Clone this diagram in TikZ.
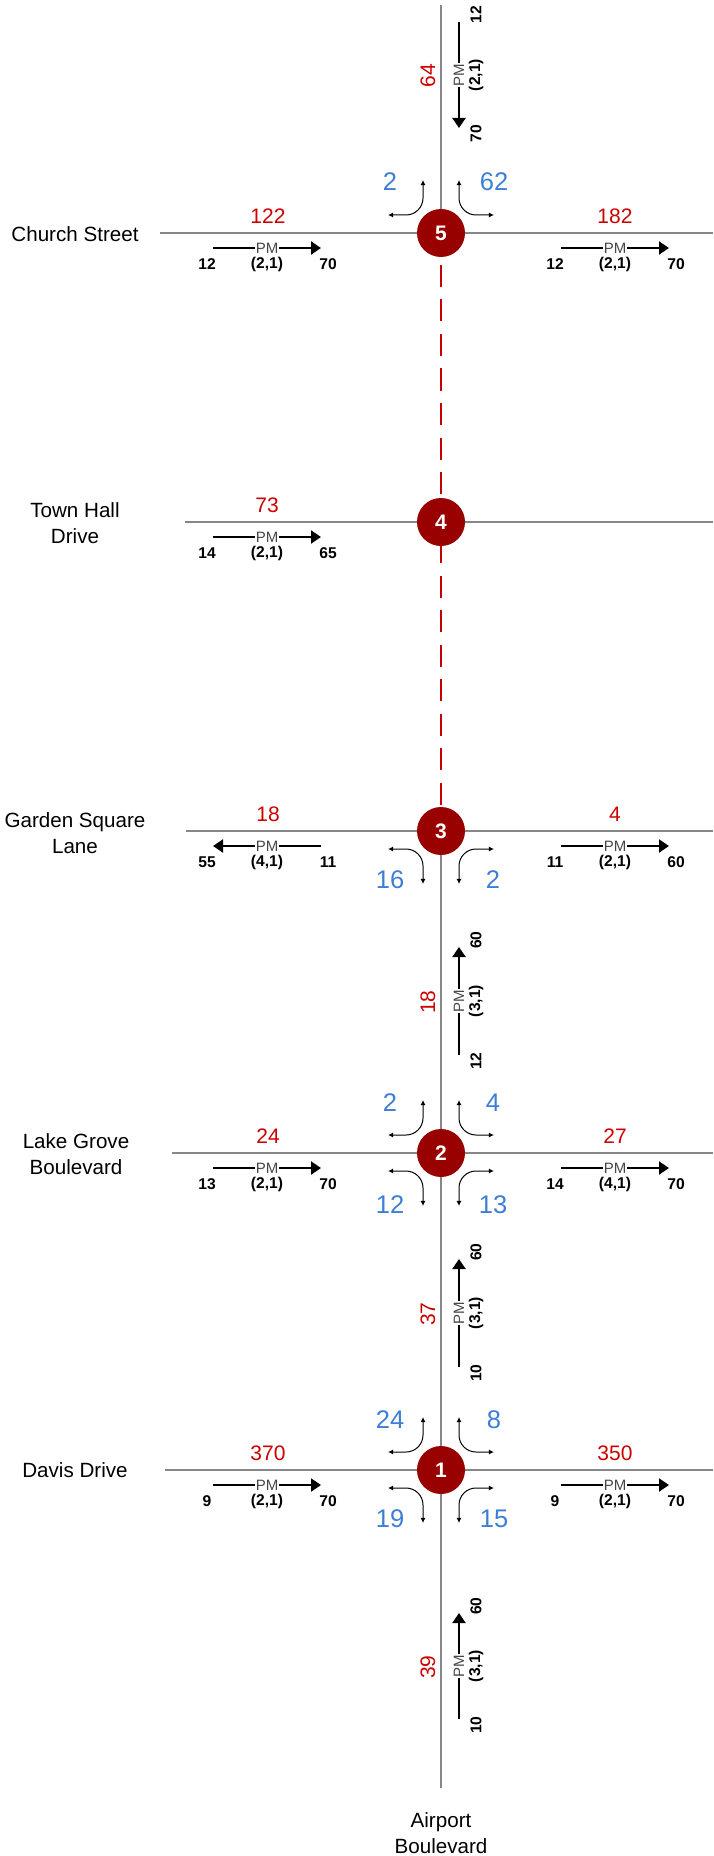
\documentclass[tikz,border=0pt]{standalone}
\usepackage{fontspec}
\setmainfont{Liberation Sans}
\usetikzlibrary{arrows.meta}
\definecolor{roadgray}{RGB}{135,135,135}
\definecolor{circred}{RGB}{153,0,0}
\definecolor{numred}{RGB}{204,0,0}
\definecolor{linkred}{RGB}{196,0,0}
\definecolor{numblue}{RGB}{61,127,214}
\definecolor{pmgray}{RGB}{70,70,70}
\tikzset{
 road/.style={draw=roadgray, line width=1.45pt},
 link/.style={draw=linkred, line width=1.35pt, dash pattern=on 11pt off 6.25pt, dash phase=1.25pt},
 isect/.style={circle, fill=circred, minimum size=24pt, inner sep=0pt, text=white, font=\fontsize{10.5}{12}\selectfont\bfseries},
 roadname/.style={align=center, font=\fontsize{10.3}{12.8}\selectfont, inner sep=0pt},
 rednum/.style={text=numred, font=\fontsize{10.5}{12}\selectfont, inner sep=0pt},
 bluenum/.style={text=numblue, font=\fontsize{12.75}{14}\selectfont, inner sep=0pt},
 lab/.style={font=\fontsize{7.8}{8.5}\selectfont\bfseries, inner sep=0pt},
 pmtext/.style={text=pmgray, fill=white, font=\fontsize{7.5}{8}\selectfont, inner sep=0.6pt},
 pmline/.style={draw=black, line width=1pt},
 pmR/.style={pmline, -{Triangle[length=5pt,width=6.5pt]}},
 pmL/.style={pmline, {Triangle[length=5pt,width=6.5pt]}-},
 turn/.style={draw=black, line width=0.5pt, rounded corners=8.5pt, {Latex[length=2.6pt,width=2.6pt]}-{Latex[length=2.6pt,width=2.6pt]}},
}
% horizontal PM group: prefix, line y, left x, right x, style, left label, mid label, right label
\newcommand{\pmH}[8]{%
  \coordinate (#1a) at (#3,#2+15);
  \coordinate (#1b) at (#4,#2+15);
  \draw[#5] (#1a) -- (#1b);
  \node[pmtext] (#1m) at ({(#3+#4)/2},#2+15) {PM};
  \node[lab] (#1l) at (#3-6,#2+31) {#6};
  \node[lab] (#1c) at ({(#3+#4)/2},#2+31) {#7};
  \node[lab] (#1r) at (#4+7,#2+31) {#8};
}
% vertical PM group: prefix, top y, bottom y, style, top label, mid label, bottom label, red number
\newcommand{\pmV}[8]{%
  \coordinate (#1a) at (459,#2);
  \coordinate (#1b) at (459,#3);
  \draw[#4] (#1a) -- (#1b);
  \node[pmtext, rotate=90] (#1m) at (459,{(#2+#3)/2}) {PM};
  \node[lab, rotate=90] (#1t) at (476,#2-7) {#5};
  \node[lab, rotate=90] (#1c) at (476,{(#2+#3)/2}) {#6};
  \node[lab, rotate=90] (#1u) at (476,#3+6) {#7};
  \node[rednum, rotate=90] (#1r) at (428,{(#2+#3)/2+1}) {#8};
}
% turning movement arrow: node, sx, sy
\newcommand{\turnArrow}[3]{%
  \draw[turn] ([shift={(#2*53,#3*18)}]#1.center) -- ([shift={(#2*18,#3*18)}]#1.center) -- ([shift={(#2*18,#3*53)}]#1.center);
}
\begin{document}
\begin{tikzpicture}[x=0.5pt,y=-0.5pt]
\fill[white] (0,0) rectangle (713,1856);
\useasboundingbox (0,0) rectangle (713,1856);
% intersection centres
\coordinate (c5) at (441,233);
\coordinate (c4) at (441,522);
\coordinate (c3) at (441,831);
\coordinate (c2) at (441,1153);
\coordinate (c1) at (441,1470);
\coordinate (v0) at (441,5);
\coordinate (v9) at (441,1788);
% roads
\coordinate (w5) at (160,233);  \coordinate (e5) at (713,233);
\coordinate (w4) at (185,522);  \coordinate (e4) at (713,522);
\coordinate (w3) at (186,831);  \coordinate (e3) at (713,831);
\coordinate (w2) at (172,1153); \coordinate (e2) at (713,1153);
\coordinate (w1) at (165,1470); \coordinate (e1) at (713,1470);
\draw[road] (w5) -- (e5);
\draw[road] (w4) -- (e4);
\draw[road] (w3) -- (e3);
\draw[road] (w2) -- (e2);
\draw[road] (w1) -- (e1);
\draw[road] (v0) -- (c5);
\draw[road] (c3) -- (v9);
\draw[link] (c5) -- (c3);
% intersections
\node[isect] (n5) at (c5) {5};
\node[isect] (n4) at (c4) {4};
\node[isect] (n3) at (c3) {3};
\node[isect] (n2) at (c2) {2};
\node[isect] (n1) at (c1) {1};
% road names
\node[roadname] (church) at (75,234) {Church Street};
\node[roadname] (townhall) at (75,523) {Town Hall\\Drive};
\node[roadname] (garden) at (75,833) {Garden Square\\Lane};
\node[roadname] (lakegrove) at (76,1154) {Lake Grove\\Boulevard};
\node[roadname] (davis) at (75,1470) {Davis Drive};
\node[roadname] (airport) at (441,1833) {Airport\\Boulevard};
% red volumes on approaches
\node[rednum] (r5w) at (268,216) {122};
\node[rednum] (r5e) at (615,216) {182};
\node[rednum] (r4w) at (267,505) {73};
\node[rednum] (r3w) at (268,814) {18};
\node[rednum] (r3e) at (615,814) {4};
\node[rednum] (r2w) at (268,1136) {24};
\node[rednum] (r2e) at (615,1136) {27};
\node[rednum] (r1w) at (268,1453) {370};
\node[rednum] (r1e) at (615,1453) {350};
% horizontal PM arrows
\pmH{p5w}{233}{213}{321}{pmR}{12}{(2,1)}{70}
\pmH{p5e}{233}{561}{669}{pmR}{12}{(2,1)}{70}
\pmH{p4w}{522}{213}{321}{pmR}{14}{(2,1)}{65}
\pmH{p3w}{831}{213}{321}{pmL}{55}{(4,1)}{11}
\pmH{p3e}{831}{561}{669}{pmR}{11}{(2,1)}{60}
\pmH{p2w}{1153}{213}{321}{pmR}{13}{(2,1)}{70}
\pmH{p2e}{1153}{561}{669}{pmR}{14}{(4,1)}{70}
\pmH{p1w}{1470}{213}{321}{pmR}{9}{(2,1)}{70}
\pmH{p1e}{1470}{561}{669}{pmR}{9}{(2,1)}{70}
% vertical PM arrows
\pmV{pn}{22}{128}{pmR}{12}{(2,1)}{70}{64}
\pmV{pa}{947}{1055}{pmL}{60}{(3,1)}{12}{18}
\pmV{pb}{1259}{1367}{pmL}{60}{(3,1)}{10}{37}
\pmV{pc}{1613}{1719}{pmL}{60}{(3,1)}{10}{39}
% turning movements
\turnArrow{n5}{-1}{-1}
\turnArrow{n5}{1}{-1}
\turnArrow{n3}{-1}{1}
\turnArrow{n3}{1}{1}
\turnArrow{n2}{-1}{-1}
\turnArrow{n2}{1}{-1}
\turnArrow{n2}{-1}{1}
\turnArrow{n2}{1}{1}
\turnArrow{n1}{-1}{-1}
\turnArrow{n1}{1}{-1}
\turnArrow{n1}{-1}{1}
\turnArrow{n1}{1}{1}
% blue turning volumes
\node[bluenum] (b5a) at (390,182) {2};
\node[bluenum] (b5b) at (494,182) {62};
\node[bluenum] (b3a) at (390,880) {16};
\node[bluenum] (b3b) at (493,880) {2};
\node[bluenum] (b2a) at (390,1103) {2};
\node[bluenum] (b2b) at (493,1103) {4};
\node[bluenum] (b2c) at (390,1205) {12};
\node[bluenum] (b2d) at (493,1205) {13};
\node[bluenum] (b1a) at (390,1420) {24};
\node[bluenum] (b1b) at (494,1420) {8};
\node[bluenum] (b1c) at (390,1519) {19};
\node[bluenum] (b1d) at (494,1519) {15};
\end{tikzpicture}
\end{document}
